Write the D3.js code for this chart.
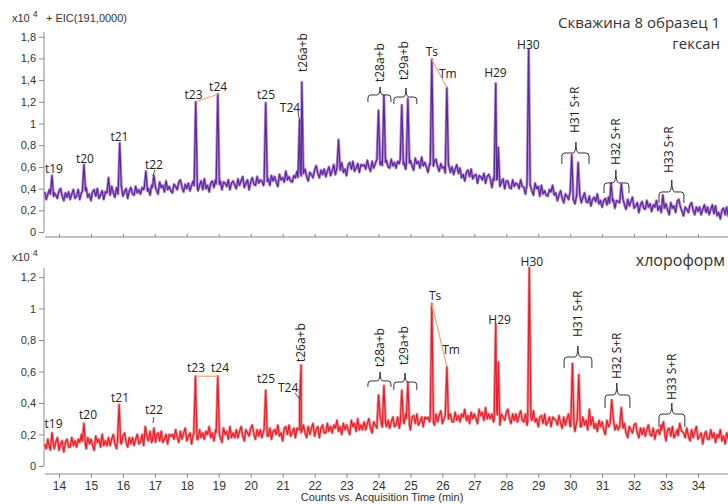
<!DOCTYPE html>
<html><head><meta charset="utf-8">
<script src="https://cdn.jsdelivr.net/npm/d3@7"></script>
<style>body{margin:0;background:#fff}svg{display:block}</style>
</head><body>
<svg id="chart" width="728" height="504"></svg>
<script>
// ---------- DATA ----------
const timeStart = 13.55, timeStep = 0.05;   // sampling grid of the baseline arrays (min)

// EIC 191 baseline (x10^4 counts), hexane extract — one row per minute
const hexaneBaseline = [
 0.37,0.30,0.35,0.39,0.32,0.28,0.36,0.34,0.31,0.38, 0.40,0.33,0.29,0.36,0.32,0.37,0.30,0.35,0.39,0.31,
 0.33,0.39,0.30,0.36,0.38,0.34,0.41,0.32,0.35,0.29, 0.37,0.39,0.33,0.40,0.31,0.34,0.38,0.30,0.37,0.36,
 0.38,0.34,0.42,0.36,0.32,0.41,0.35,0.39,0.43,0.33, 0.37,0.40,0.31,0.38,0.41,0.35,0.34,0.42,0.36,0.39,
 0.35,0.41,0.39,0.45,0.36,0.40,0.34,0.43,0.38,0.42, 0.39,0.35,0.46,0.41,0.43,0.37,0.47,0.39,0.42,0.38,
 0.36,0.44,0.42,0.39,0.46,0.48,0.41,0.37,0.44,0.40, 0.45,0.38,0.43,0.47,0.40,0.45,0.38,0.43,0.47,0.39,
 0.49,0.40,0.43,0.37,0.45,0.47,0.41,0.48,0.39,0.42, 0.47,0.39,0.46,0.45,0.42,0.48,0.39,0.45,0.47,0.43,
 0.40,0.49,0.43,0.47,0.51,0.41,0.45,0.48,0.39,0.46, 0.50,0.44,0.43,0.51,0.45,0.48,0.47,0.43,0.51,0.45,
 0.49,0.43,0.52,0.47,0.51,0.46,0.42,0.53,0.48,0.50, 0.46,0.56,0.48,0.51,0.47,0.46,0.52,0.50,0.56,0.47,
 0.56,0.49,0.54,0.58,0.51,0.47,0.55,0.53,0.50,0.57, 0.61,0.54,0.50,0.57,0.53,0.58,0.51,0.56,0.60,0.52,
 0.56,0.62,0.53,0.59,0.61,0.57,0.64,0.55,0.58,0.52, 0.62,0.64,0.58,0.65,0.56,0.59,0.63,0.55,0.62,0.61,
 0.62,0.58,0.66,0.60,0.56,0.65,0.59,0.63,0.67,0.57, 0.62,0.65,0.56,0.63,0.66,0.60,0.59,0.67,0.61,0.64,
 0.59,0.65,0.63,0.69,0.60,0.64,0.58,0.67,0.62,0.66, 0.61,0.57,0.68,0.63,0.65,0.59,0.69,0.61,0.64,0.60,
 0.55,0.63,0.61,0.58,0.65,0.67,0.60,0.56,0.63,0.59, 0.60,0.53,0.58,0.62,0.55,0.60,0.53,0.58,0.62,0.54,
 0.59,0.50,0.53,0.47,0.55,0.57,0.51,0.58,0.49,0.52, 0.53,0.45,0.52,0.51,0.48,0.54,0.45,0.51,0.53,0.49,
 0.41,0.50,0.44,0.48,0.52,0.42,0.46,0.49,0.40,0.47, 0.47,0.41,0.40,0.48,0.42,0.45,0.44,0.40,0.48,0.42,
 0.41,0.35,0.44,0.39,0.43,0.38,0.34,0.45,0.40,0.42, 0.33,0.43,0.35,0.38,0.34,0.33,0.39,0.37,0.43,0.34,
 0.36,0.29,0.34,0.38,0.31,0.27,0.35,0.33,0.30,0.37, 0.37,0.30,0.26,0.33,0.29,0.34,0.27,0.32,0.36,0.28,
 0.27,0.33,0.24,0.30,0.32,0.28,0.35,0.26,0.29,0.23, 0.29,0.31,0.25,0.32,0.23,0.26,0.30,0.22,0.29,0.28,
 0.27,0.23,0.31,0.25,0.21,0.30,0.24,0.28,0.32,0.22, 0.24,0.27,0.18,0.25,0.28,0.22,0.21,0.29,0.23,0.26,
 0.19,0.25,0.23,0.29,0.20,0.24,0.18,0.27,0.22,0.26, 0.20,0.16,0.27,0.22,0.24,0.18,0.28,0.20,0.23,0.19,
 0.15,0.23,0.21,0.18,0.25,0.27,0.20,0.16,0.23,0.19, 0.23,0.16,0.21,0.25,0.18,0.23,0.16,0.21,0.25,0.17,
 0.24,0.15,0.18,0.12,0.20,0.22,0.16,0.23,0.14
];
// EIC 191 baseline (x10^4 counts), chloroform extract — one row per minute
const chloroformBaseline = [
 0.14,0.11,0.17,0.12,0.09,0.16,0.11,0.15,0.18,0.10, 0.14,0.16,0.09,0.15,0.17,0.12,0.12,0.18,0.13,0.16,
 0.12,0.17,0.15,0.20,0.13,0.16,0.11,0.18,0.14,0.17, 0.13,0.10,0.19,0.15,0.17,0.12,0.20,0.13,0.16,0.13,
 0.18,0.13,0.17,0.20,0.14,0.11,0.18,0.16,0.14,0.19, 0.21,0.15,0.12,0.18,0.14,0.18,0.13,0.17,0.20,0.14,
 0.15,0.20,0.13,0.18,0.19,0.16,0.22,0.15,0.17,0.12, 0.20,0.21,0.16,0.22,0.15,0.17,0.20,0.14,0.20,0.19,
 0.20,0.17,0.23,0.18,0.15,0.22,0.17,0.21,0.24,0.16, 0.19,0.21,0.14,0.20,0.22,0.17,0.17,0.23,0.18,0.21,
 0.17,0.22,0.20,0.25,0.18,0.21,0.16,0.23,0.19,0.22, 0.18,0.15,0.24,0.20,0.22,0.17,0.25,0.18,0.21,0.18,
 0.23,0.18,0.22,0.25,0.19,0.16,0.23,0.21,0.19,0.24, 0.26,0.20,0.17,0.23,0.19,0.23,0.18,0.22,0.25,0.19,
 0.19,0.24,0.17,0.22,0.23,0.20,0.26,0.19,0.21,0.16, 0.24,0.25,0.20,0.26,0.19,0.21,0.24,0.18,0.24,0.23,
 0.23,0.20,0.26,0.21,0.18,0.25,0.20,0.24,0.27,0.19, 0.23,0.25,0.18,0.24,0.26,0.21,0.21,0.27,0.22,0.25,
 0.21,0.26,0.24,0.29,0.22,0.25,0.20,0.27,0.23,0.26, 0.23,0.20,0.29,0.25,0.27,0.22,0.30,0.23,0.26,0.23,
 0.28,0.23,0.27,0.30,0.24,0.21,0.28,0.26,0.24,0.29, 0.32,0.26,0.23,0.29,0.25,0.29,0.24,0.28,0.31,0.25,
 0.26,0.31,0.24,0.29,0.30,0.27,0.33,0.26,0.28,0.23, 0.31,0.32,0.27,0.33,0.26,0.28,0.31,0.25,0.31,0.30,
 0.31,0.28,0.34,0.29,0.26,0.33,0.28,0.32,0.35,0.27, 0.30,0.32,0.25,0.31,0.33,0.28,0.28,0.34,0.29,0.32,
 0.28,0.33,0.31,0.36,0.29,0.32,0.27,0.34,0.30,0.33, 0.30,0.27,0.36,0.32,0.34,0.29,0.37,0.30,0.33,0.30,
 0.33,0.28,0.32,0.35,0.29,0.26,0.33,0.31,0.29,0.34, 0.36,0.30,0.27,0.33,0.29,0.33,0.28,0.32,0.35,0.29,
 0.28,0.33,0.26,0.31,0.32,0.29,0.35,0.28,0.30,0.25, 0.31,0.32,0.27,0.33,0.26,0.28,0.31,0.25,0.31,0.30,
 0.29,0.26,0.32,0.27,0.24,0.31,0.26,0.30,0.33,0.25, 0.27,0.29,0.22,0.28,0.30,0.25,0.25,0.31,0.26,0.29,
 0.23,0.28,0.26,0.31,0.24,0.27,0.22,0.29,0.25,0.28, 0.23,0.20,0.29,0.25,0.27,0.22,0.30,0.23,0.26,0.23,
 0.25,0.20,0.24,0.27,0.21,0.18,0.25,0.23,0.21,0.26, 0.27,0.21,0.18,0.24,0.20,0.24,0.19,0.23,0.26,0.20,
 0.19,0.24,0.17,0.22,0.23,0.20,0.26,0.19,0.21,0.16, 0.23,0.24,0.19,0.25,0.18,0.20,0.23,0.17,0.23,0.22,
 0.21,0.18,0.24,0.19,0.16,0.23,0.18,0.22,0.25,0.17, 0.19,0.21,0.14,0.20,0.22,0.17,0.17,0.23,0.18,0.21,
 0.15,0.20,0.18,0.23,0.16,0.19,0.14,0.21,0.17
];

// Peaks: retention time (min) and apex height (x10^4)
const hexanePeakTimes   = [13.78,14.78,15.55,15.90,16.72,16.97,18.28,18.97,20.47,21.53,21.60,22.75,24.00,24.17,24.73,24.92,25.67,26.14,27.67,27.75,28.70,30.05,30.25,31.28,31.60,32.90,33.40];
const hexanePeakHeights = [0.52, 0.62, 0.50, 0.82, 0.56, 0.52, 1.20, 1.27, 1.19, 1.03, 1.38, 0.85, 1.12, 1.26, 1.17, 1.23, 1.59, 1.33, 1.37, 0.78, 1.68, 0.71, 0.64, 0.45, 0.44, 0.34, 0.30];
const chloroformPeakTimes   = [13.78,14.78,15.88,16.70,16.97,18.27,18.97,20.47,21.53,21.58,24.00,24.17,24.73,24.92,25.67,26.14,27.67,27.75,28.72,30.07,30.27,30.60,31.30,31.60,32.92,33.43];
const chloroformPeakHeights = [0.21, 0.27, 0.39, 0.25, 0.24, 0.57, 0.57, 0.48, 0.42, 0.64, 0.45, 0.51, 0.48, 0.53, 1.03, 0.63, 0.90, 0.66, 1.26, 0.65, 0.58, 0.36, 0.42, 0.37, 0.28, 0.27];

const xTickValues = [14,15,16,17,18,19,20,21,22,23,24,25,26,27,28,29,30,31,32,33,34];
const hexaneYTicks = [0,0.2,0.4,0.6,0.8,1,1.2,1.4,1.6,1.8];
const chloroformYTicks = [0,0.2,0.4,0.6,0.8,1,1.2];

// Peak labels [text, time, level]
const hexaneLabels = [["t19",13.84,0.544],["t20",14.81,0.636],["t21",15.89,0.839],["t22",16.97,0.581],
  ["t23",18.21,1.226],["t24",18.98,1.300],["t25",20.48,1.226],["T24",21.23,1.106],
  ["Ts",25.67,1.622],["Tm",26.17,1.419],["H29",27.66,1.429],["H30",28.69,1.687]];
const hexaneVLabels = [["t26a+b",21.64,1.475],["t28a+b",24.05,1.382],["t29a+b",24.80,1.401],
  ["H31 S+R",30.15,0.912],["H32 S+R",31.43,0.618],["H33 S+R",33.09,0.544]];
const hexaneBrackets = [[23.67,24.39,24.05,1.263,1.198,1.336],[24.48,25.20,24.86,1.244,1.180,1.327],
  [29.74,30.59,30.18,0.728,0.627,0.829],[31.06,31.84,31.43,0.452,0.359,0.571],[32.78,33.56,33.18,0.369,0.267,0.479]];
const hexaneLeaders = [[17.00,0.571,16.94,0.516],[21.48,1.106,21.54,1.014]];

const chloroformLabels = [["t19",13.83,0.241],["t20",14.91,0.298],["t21",15.91,0.406],["t22",16.97,0.330],
  ["t23",18.29,0.597],["t24",19.04,0.597],["t25",20.48,0.527],["T24",21.17,0.470],
  ["Ts",25.77,1.054],["Tm",26.27,0.711],["H29",27.79,0.902],["H30",28.80,1.270]];
const chloroformVLabels = [["t26a+b",21.57,0.660],["t28a+b",24.05,0.629],["t29a+b",24.80,0.641],
  ["H31 S+R",30.24,0.819],["H32 S+R",31.46,0.552],["H33 S+R",33.18,0.419]];
const chloroformBrackets = [[23.67,24.39,24.05,0.540,0.502,0.597],[24.48,25.20,24.83,0.533,0.483,0.590],
  [29.81,30.68,30.24,0.692,0.622,0.762],[31.09,31.87,31.46,0.451,0.368,0.527],[32.78,33.59,33.18,0.330,0.248,0.400]];
const chloroformLeaders = [[16.97,0.311,16.94,0.273],[21.39,0.463,21.54,0.425]];

// ---------- DRAW ----------
const svg = d3.select("#chart");
const x = d3.scaleLinear().domain([13.53, 34.94]).range([44, 728]);
const fmt = d => String(+d.toFixed(1)).replace(".", ",");
const labelFont = "'Open Sans', sans-serif";
const axisFont = "'Liberation Sans', Arial, sans-serif";

function buildTrace(base, pt, ph, w) {
  const baseAt = t => {
    const f = (t - timeStart) / timeStep, i = Math.floor(f);
    const a = base[Math.max(0, Math.min(base.length - 1, i))];
    const b = base[Math.max(0, Math.min(base.length - 1, i + 1))];
    return a + (b - a) * (f - i);
  };
  const pts = base.map((v, i) => ({t: timeStart + i * timeStep, v}))
    .filter(p => !pt.some(t => Math.abs(p.t - t) < w));
  pt.forEach((t, k) => {
    pts.push({t: t - w, v: baseAt(t - w)}, {t: t, v: ph[k]}, {t: t + w, v: baseAt(t + w)});
  });
  return pts.sort((a, b) => a.t - b.t);
}

function panel(cfg) {
  const y = d3.scaleLinear().domain([0, cfg.yMax]).range([cfg.y0, cfg.yTop]);
  const g = svg.append("g");
  const clipId = "clip" + cfg.id;
  svg.append("clipPath").attr("id", clipId).append("rect")
    .attr("x", 44).attr("y", cfg.clipTop).attr("width", 684).attr("height", cfg.xAxisY - cfg.clipTop);

  // y axis
  const ya = g.append("g").attr("transform", "translate(44,0)")
    .call(d3.axisLeft(y).tickValues(cfg.yTicks).tickFormat(fmt).tickSize(5).tickPadding(3));
  ya.select(".domain").remove();
  ya.append("line").attr("x1", 0).attr("x2", 0).attr("y1", cfg.axisTop).attr("y2", cfg.y0).attr("stroke", "#8a8a8a");
  ya.selectAll(".tick line").attr("stroke", "#8a8a8a");
  ya.selectAll("text").attr("font-family", axisFont).attr("font-size", 11).attr("fill", "#333");

  // x axis
  const axisGen = cfg.showXLabels ? d3.axisBottom(x).tickSize(4) : d3.axisTop(x).tickSize(3);
  const xa = g.append("g").attr("transform", `translate(0,${cfg.xAxisY})`)
    .call(axisGen.tickValues(xTickValues).tickFormat(cfg.showXLabels ? d3.format("d") : "").tickSizeOuter(0).tickPadding(3));
  xa.select(".domain").attr("stroke", "#8a8a8a").attr("d", "M45,0H728");
  xa.selectAll(".tick line").attr("stroke", "#8a8a8a");
  xa.selectAll("text").attr("font-family", axisFont).attr("font-size", 12).attr("fill", "#333");

  // trace
  const data = buildTrace(cfg.base, cfg.pt, cfg.ph, 0.05);
  const line = d3.line().x(d => x(d.t)).y(d => y(d.v));
  const tg = g.append("g").attr("clip-path", `url(#${clipId})`);
  tg.append("path").datum(data).attr("d", line).attr("fill", "none")
    .attr("stroke", cfg.light).attr("stroke-width", 2.8).attr("stroke-linejoin", "round");
  tg.append("path").datum(data).attr("d", line).attr("fill", "none")
    .attr("stroke", cfg.dark).attr("stroke-width", 1.2).attr("stroke-linejoin", "round");

  // orange connectors between named peak apices
  cfg.connectors.forEach(([a, b]) => {
    g.append("line").attr("x1", x(cfg.pt[a])).attr("y1", y(cfg.ph[a]))
      .attr("x2", x(cfg.pt[b])).attr("y2", y(cfg.ph[b]))
      .attr("stroke", "#f6a66c").attr("stroke-width", 1.2);
  });

  // leaders
  cfg.leaders.forEach(([t1, v1, t2, v2]) => {
    g.append("line").attr("x1", x(t1)).attr("y1", y(v1)).attr("x2", x(t2)).attr("y2", y(v2))
      .attr("stroke", "#333").attr("stroke-width", 0.9);
  });

  // brackets
  cfg.brackets.forEach(([tl, tr, tc, vl, ve, vt]) => {
    const L = x(tl), R = x(tr), C = x(tc), H = y(vl), E = y(ve), T = y(vt);
    const p = `M${L},${E} L${L},${H + 3} Q${L},${H} ${L + 3},${H} L${C - 3},${H} Q${C},${H} ${C},${T}` +
              ` Q${C},${H} ${C + 3},${H} L${R - 3},${H} Q${R},${H} ${R},${H + 3} L${R},${E}`;
    g.append("path").attr("d", p).attr("fill", "none").attr("stroke", "#333").attr("stroke-width", 1);
  });

  // labels
  cfg.labels.forEach(([txt, t, v]) => {
    g.append("text").attr("x", x(t)).attr("y", y(v)).attr("text-anchor", "middle")
      .attr("font-family", labelFont).attr("font-size", 12).attr("fill", "#222").text(txt);
  });
  cfg.vlabels.forEach(([txt, t, v]) => {
    g.append("text").attr("transform", `translate(${x(t)},${y(v)}) rotate(-90)`)
      .attr("text-anchor", "start").attr("dy", "0.35em")
      .attr("font-family", labelFont).attr("font-size", 12).attr("fill", "#222").text(txt);
  });

  // multiplier
  const m = g.append("text").attr("x", 12).attr("y", cfg.multY)
    .attr("font-family", axisFont).attr("font-size", 11).attr("fill", "#333");
  m.append("tspan").text("x10");
  m.append("tspan").attr("dx", 3).attr("dy", -5).attr("font-size", 9).text("4");
}

panel({id: "top", base: hexaneBaseline, pt: hexanePeakTimes, ph: hexanePeakHeights,
  yMax: 1.8, y0: 232, yTop: 36.7, axisTop: 32, clipTop: 28, xAxisY: 237, yTicks: hexaneYTicks,
  showXLabels: false, dark: "#5a2a9a", light: "#b58ad4",
  connectors: [[6, 7], [16, 17]], leaders: hexaneLeaders, brackets: hexaneBrackets,
  labels: hexaneLabels, vlabels: hexaneVLabels, multY: 22});

panel({id: "bot", base: chloroformBaseline, pt: chloroformPeakTimes, ph: chloroformPeakHeights,
  yMax: 1.2, y0: 466, yTop: 277, axisTop: 268, clipTop: 262, xAxisY: 474, yTicks: chloroformYTicks,
  showXLabels: true, dark: "#e61f2b", light: "#f29090",
  connectors: [[5, 6], [14, 15]], leaders: chloroformLeaders, brackets: chloroformBrackets,
  labels: chloroformLabels, vlabels: chloroformVLabels, multY: 261});

// header texts
svg.append("text").attr("x", 46).attr("y", 22).attr("font-family", axisFont).attr("font-size", 11)
  .attr("fill", "#333").text("+ EIC(191,0000)");
svg.append("text").attr("x", 720).attr("y", 28).attr("text-anchor", "end").attr("font-family", labelFont)
  .attr("font-size", 15).attr("fill", "#333").text("Скважина 8 образец 1");
svg.append("text").attr("x", 720).attr("y", 49).attr("text-anchor", "end").attr("font-family", labelFont)
  .attr("font-size", 15).attr("fill", "#333").text("гексан");
svg.append("text").attr("x", 725).attr("y", 266).attr("text-anchor", "end").attr("font-family", labelFont)
  .attr("font-size", 16).attr("fill", "#333").text("хлороформ");
svg.append("text").attr("x", 382).attr("y", 501).attr("text-anchor", "middle").attr("font-family", axisFont)
  .attr("font-size", 11).attr("fill", "#333").text("Counts vs. Acquisition Time (min)");
</script>
</body></html>
